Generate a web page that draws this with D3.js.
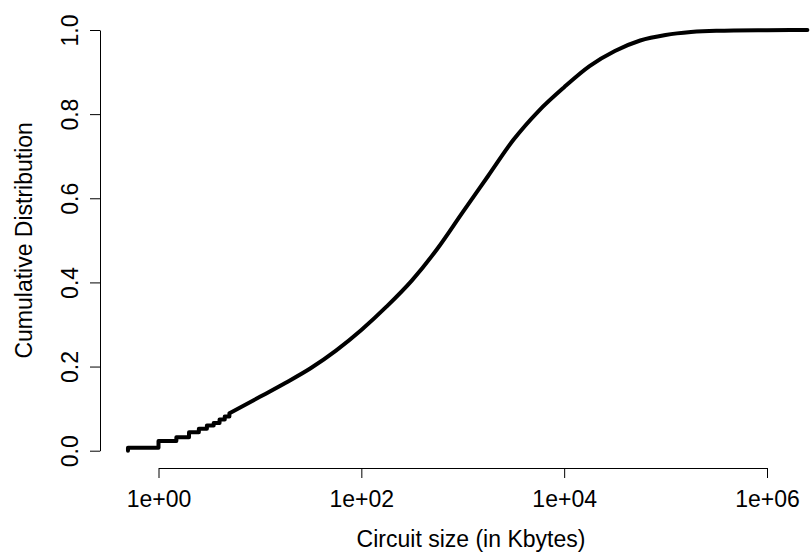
<!DOCTYPE html>
<html>
<head>
<meta charset="utf-8">
<script src="https://cdn.jsdelivr.net/npm/d3@7"></script>
<style>
  body { margin: 0; background: #fff; }
  text { font-family: "Liberation Sans", Arial, sans-serif; fill: #000; }
</style>
</head>
<body>
<script>
// circuit sizes (Kbytes) and cumulative share
// small sizes come in 0.5 KB steps -> drawn as steps
var stepSizes = [0.5, 0.5, 1.0, 1.5, 2.0, 2.5, 3.0, 3.5, 4.0, 4.5, 5.0]
var stepCdf   = [0.0, 0.007, 0.023, 0.032, 0.044, 0.052, 0.060, 0.066, 0.074, 0.081, 0.089]

// larger sizes: curve looks smooth
var smoothSizes = [5, 10, 17.8, 31.6, 56.2, 100, 178, 316, 562, 1000, 1778, 3162,
                   5623, 10000, 17783, 31623, 56234, 100000, 177828, 316228, 1000000, 2500000]
var smoothCdf   = [0.089, 0.128, 0.161, 0.196, 0.238, 0.287, 0.343, 0.405, 0.480, 0.567, 0.653, 0.739,
                   0.808, 0.864, 0.914, 0.950, 0.975, 0.988, 0.995, 0.998, 0.9995, 1.0]

var xTicks = [1, 1e2, 1e4, 1e6]
var xTickLabels = ["1e+00", "1e+02", "1e+04", "1e+06"]
var yTicks = [0, 0.2, 0.4, 0.6, 0.8, 1.0]
var yTickLabels = ["0.0", "0.2", "0.4", "0.6", "0.8", "1.0"]

var W = 810, H = 556
var FS = "23px"

var svg = d3.select("body").append("svg")
	.attr("width", W)
	.attr("height", H)

var x = d3.scaleLog().domain([1, 1e6]).range([158.5, 767])
var y = d3.scaleLinear().domain([0, 1]).range([450.7, 30])

// x axis (R style: line only between first and last tick)
var xAxis = svg.append("g")
	.attr("transform", "translate(0,468)")
	.call(d3.axisBottom(x).tickValues(xTicks).tickSize(10).tickSizeOuter(0)
		.tickFormat(function(d, i){ return xTickLabels[i] }))
xAxis.selectAll("text")
	.attr("y", 39)
	.attr("dy", 0)
	.style("font-size", FS)

// y axis
var yAxis = svg.append("g")
	.attr("transform", "translate(100,0)")
	.call(d3.axisLeft(y).tickValues(yTicks).tickSize(10).tickSizeOuter(0)
		.tickFormat(function(d, i){ return yTickLabels[i] }))
yAxis.selectAll("text")
	.attr("x", 0)
	.attr("dy", 0)
	.attr("transform", "translate(-22,0) rotate(-90)")
	.attr("text-anchor", "middle")
	.style("font-size", FS)

svg.selectAll(".domain, .tick line")
	.attr("stroke", "#000")
	.attr("stroke-width", 1)
svg.selectAll(".tick text").attr("font-family", null)

// axis titles, centred on the plot region (its right part is cut off)
svg.append("text")
	.attr("x", 471)
	.attr("y", 547)
	.attr("text-anchor", "middle")
	.style("font-size", FS)
	.text("Circuit size (in Kbytes)")

svg.append("text")
	.attr("transform", "translate(32," + (y(0) + y(1)) / 2 + ") rotate(-90)")
	.attr("text-anchor", "middle")
	.style("font-size", FS)
	.text("Cumulative Distribution")

// the ECDF line
var stepLine = d3.line()
	.x(function(d){ return x(d[0]) })
	.y(function(d){ return y(d[1]) })
	.curve(d3.curveStepAfter)

var smoothLine = d3.line()
	.x(function(d){ return x(d[0]) })
	.y(function(d){ return y(d[1]) })
	.curve(d3.curveMonotoneX)

var stepPts = stepSizes.map(function(s, i){ return [s, stepCdf[i]] })
var smoothPts = smoothSizes.map(function(s, i){ return [s, smoothCdf[i]] })

svg.append("path")
	.attr("d", stepLine(stepPts) + smoothLine(smoothPts).replace(/^M/, "L"))
	.attr("fill", "none")
	.attr("stroke", "#000")
	.attr("stroke-width", 4)
	.attr("stroke-linejoin", "round")
	.attr("stroke-linecap", "round")
</script>
</body>
</html>
